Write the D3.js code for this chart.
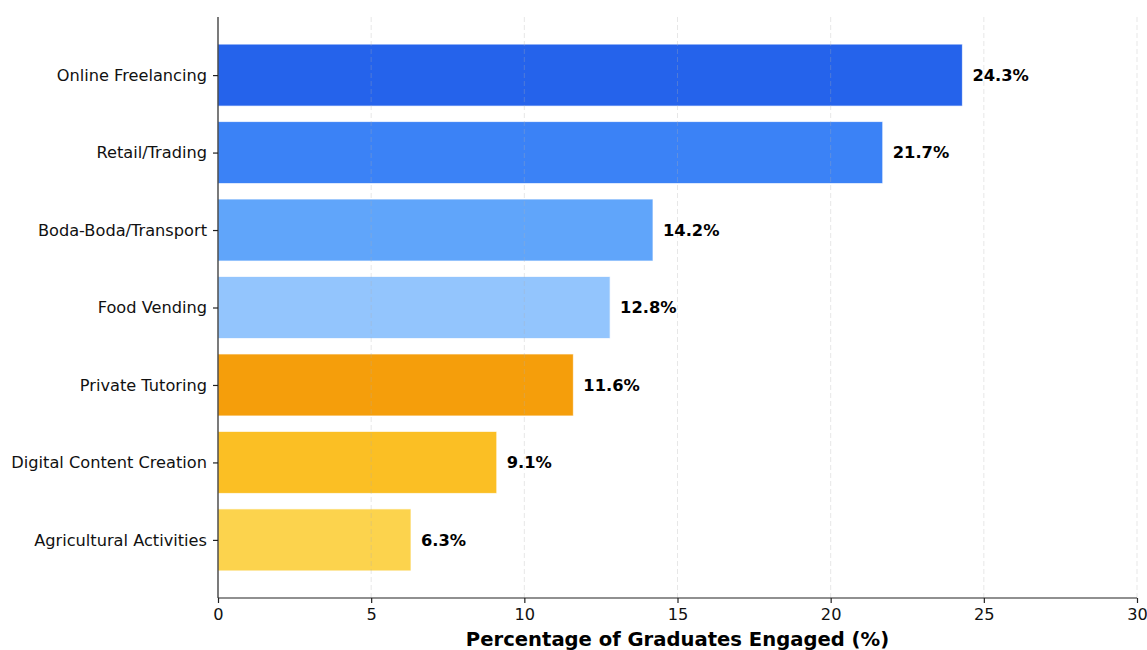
<!DOCTYPE html>
<html>
<head>
  <meta charset="utf-8">
  <title>Graduate side hustles</title>
  <style>
  body {
    margin: 0;
    background: #fff;
    font-family: "DejaVu Sans", sans-serif;
  }
</style>
</head>
<body>
  <div id="viz"></div>
  <script src="https://d3js.org/d3.v7.min.js"></script>
  <script>
    // data
    const categories = ["Online Freelancing", "Retail/Trading", "Boda-Boda/Transport", "Food Vending",
      "Private Tutoring", "Digital Content Creation", "Agricultural Activities"];
    const values = [24.3, 21.7, 14.2, 12.8, 11.6, 9.1, 6.3];
    const colors = ["#2563eb", "#3b82f6", "#60a5fa", "#93c5fd", "#f59e0b", "#fbbf24", "#fcd34d"];
    const xTicks = [0, 5, 10, 15, 20, 25, 30];

    let svgWidth = 1147;
    let svgHeight = 650;
    let margin = {"top": 17, "right": 10, "bottom": 52, "left": 218};
    let width = svgWidth - margin.left - margin.right;
    let height = svgHeight - margin.top - margin.bottom;

    let svg = d3.select("#viz")
      .append("svg")
      .attr("width", svgWidth)
      .attr("height", svgHeight);

    let g = svg.append("g")
      .attr("transform", `translate(${margin.left},${margin.top})`);

    // scales
    let x_scale = d3.scaleLinear()
      .domain([0, 30])
      .range([0, width]);

    let y_scale = d3.scaleLinear()
      .domain([-0.75, categories.length - 0.25])
      .range([0, height]);

    let bandH = y_scale(1) - y_scale(0);

    // bars
    g.append("g")
      .selectAll("rect")
      .data(values)
      .join("rect")
      .attr("x", x_scale(0))
      .attr("y", (d, i) => y_scale(i) - bandH * 0.4)
      .attr("width", d => x_scale(d) - x_scale(0))
      .attr("height", bandH * 0.8)
      .attr("fill", (d, i) => colors[i])
      .attr("stroke", "#ffffff")
      .attr("stroke-opacity", 0.7)
      .attr("stroke-width", 1);

    // grid (dashed, faint, shows over the bars)
    g.append("g")
      .selectAll("line")
      .data(xTicks.slice(1))
      .join("line")
      .attr("x1", d => x_scale(d))
      .attr("x2", d => x_scale(d))
      .attr("y1", 0)
      .attr("y2", height)
      .attr("stroke", "#b0b0b0")
      .attr("stroke-opacity", 0.3)
      .attr("stroke-dasharray", "5,3")
      .attr("stroke-width", 1);

    // value labels
    g.append("g")
      .selectAll("text")
      .data(values)
      .join("text")
      .attr("x", d => x_scale(d) + 10)
      .attr("y", (d, i) => y_scale(i))
      .attr("dy", "0.35em")
      .attr("font-size", 16.3)
      .attr("font-weight", "bold")
      .attr("fill", "#000")
      .text(d => d.toFixed(1) + "%");

    // axes
    let x_axis = d3.axisBottom(x_scale)
      .tickValues(xTicks)
      .tickSize(5)
      .tickPadding(5)
      .tickFormat(d3.format("d"));

    let gX = g.append("g")
      .attr("transform", `translate(0,${height})`)
      .call(x_axis);

    let y_axis = d3.axisLeft(y_scale)
      .tickValues(d3.range(categories.length))
      .tickSize(5)
      .tickPadding(6)
      .tickFormat(i => categories[i]);

    let gY = g.append("g")
      .call(y_axis);

    [gX, gY].forEach(ax => {
      ax.attr("font-family", null);
      ax.select(".domain")
        .attr("stroke", "#222")
        .attr("stroke-width", 1.2);
      ax.selectAll(".tick line")
        .attr("stroke", "#222")
        .attr("stroke-width", 1.2);
      ax.selectAll(".tick text")
        .attr("font-family", "DejaVu Sans, sans-serif")
        .attr("font-size", 16.2)
        .attr("fill", "#111");
    });
    // matplotlib-style spines: remove the outer tick caps
    gX.select(".domain").attr("d", `M0,0H${width}`);
    gY.select(".domain").attr("d", `M0,0V${height}`);

    // axis label
    svg.append("text")
      .attr("x", margin.left + width / 2)
      .attr("y", 646)
      .attr("text-anchor", "middle")
      .attr("font-size", 19.6)
      .attr("font-weight", "bold")
      .attr("fill", "#000")
      .text("Percentage of Graduates Engaged (%)");
  </script>
</body>
</html>
